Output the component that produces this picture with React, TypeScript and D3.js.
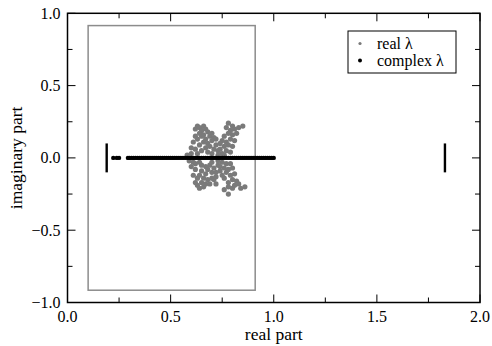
import { useEffect, useRef } from "react";
import * as d3 from "d3";

const W = 492, H = 346;
const FONT = "'Liberation Serif', 'Times New Roman', serif";

// x ticks / y ticks
const X_MAJOR = [0, 0.5, 1.0, 1.5, 2.0];
const X_MINOR = [0.25, 0.75, 1.25, 1.75];
const Y_MAJOR = [-1.0, -0.5, 0, 0.5, 1.0];
const Y_MINOR = [-0.75, -0.25, 0.25, 0.75];

// grey bounding box (real / imag extents)
const BOX_X = [0.1, 0.91];
const BOX_Y = [-0.915, 0.915];

// isolated eigenvalue bars (real part, half height)
const BARS = [0.19, 1.83];
const BAR_HALF = 0.1;

// real λ cloud, upper half
const REAL_UP: [number, number][] = [
  [0.62, 0.20], [0.63, 0.22], [0.64, 0.21], [0.65, 0.19], [0.66, 0.22], [0.67, 0.20],
  [0.64, 0.17], [0.62, 0.15], [0.63, 0.13], [0.65, 0.15], [0.66, 0.16], [0.68, 0.18],
  [0.69, 0.15], [0.67, 0.13], [0.70, 0.12], [0.68, 0.10], [0.66, 0.11], [0.64, 0.09],
  [0.61, 0.11], [0.60, 0.07], [0.62, 0.06], [0.65, 0.05], [0.67, 0.07], [0.69, 0.08],
  [0.71, 0.06], [0.70, 0.03], [0.68, 0.04], [0.72, 0.09], [0.73, 0.05], [0.71, 0.14],
  [0.70, 0.17], [0.58, 0.02], [0.60, 0.03], [0.63, 0.03],
  [0.78, 0.24], [0.77, 0.21], [0.79, 0.19], [0.80, 0.22], [0.81, 0.20], [0.83, 0.21],
  [0.85, 0.22], [0.82, 0.17], [0.80, 0.16], [0.78, 0.17], [0.76, 0.15], [0.79, 0.13],
  [0.81, 0.12], [0.77, 0.11], [0.75, 0.12], [0.76, 0.08], [0.78, 0.09], [0.80, 0.08],
  [0.74, 0.06], [0.77, 0.05], [0.75, 0.03], [0.79, 0.04], [0.73, 0.02], [0.76, 0.02],
  [0.74, 0.10], [0.72, 0.13],
];

// real λ cloud, lower half
const REAL_DOWN: [number, number][] = [
  [0.63, -0.19], [0.62, -0.17], [0.64, -0.21], [0.66, -0.20], [0.65, -0.17], [0.67, -0.18],
  [0.63, -0.14], [0.61, -0.12], [0.64, -0.12], [0.66, -0.14], [0.68, -0.15], [0.69, -0.18],
  [0.70, -0.14], [0.67, -0.11], [0.70, -0.10], [0.68, -0.08], [0.65, -0.09], [0.62, -0.08],
  [0.60, -0.06], [0.62, -0.04], [0.65, -0.05], [0.67, -0.06], [0.69, -0.05], [0.71, -0.07],
  [0.70, -0.03], [0.72, -0.10], [0.73, -0.05], [0.71, -0.15], [0.72, -0.13], [0.59, -0.02],
  [0.61, -0.03], [0.64, -0.03],
  [0.78, -0.25], [0.76, -0.22], [0.78, -0.20], [0.80, -0.21], [0.81, -0.19], [0.84, -0.21],
  [0.86, -0.20], [0.82, -0.16], [0.80, -0.15], [0.78, -0.17], [0.76, -0.14], [0.79, -0.12],
  [0.81, -0.11], [0.77, -0.10], [0.75, -0.12], [0.76, -0.07], [0.78, -0.08], [0.80, -0.07],
  [0.74, -0.06], [0.77, -0.04], [0.75, -0.03], [0.79, -0.04], [0.73, -0.02], [0.74, -0.09],
  [0.83, -0.18], [0.72, -0.18],
];

// complex λ along the real axis (real parts)
const COMPLEX_X = [
  0.222, 0.239, 0.25,
  0.293, 0.30, 0.31, 0.32, 0.33, 0.34, 0.35, 0.36, 0.37, 0.38, 0.39, 0.40,
  0.41, 0.42, 0.43, 0.44, 0.45, 0.46, 0.47, 0.48, 0.49, 0.50,
  0.51, 0.52, 0.53, 0.54, 0.55, 0.56, 0.57, 0.58, 0.59, 0.60,
  0.61, 0.62, 0.63, 0.64, 0.65, 0.66, 0.67, 0.68, 0.69, 0.70,
  0.71, 0.72, 0.73, 0.74, 0.75, 0.76, 0.77, 0.78, 0.79, 0.80,
  0.81, 0.82, 0.83, 0.84, 0.85, 0.86, 0.87, 0.88, 0.89, 0.90,
  0.91, 0.92, 0.93, 0.94, 0.95, 0.96, 0.97, 0.98, 0.99, 1.0,
];

const GREY = "#7a7a7a";

export default function App() {
  const svgRef = useRef<SVGSVGElement>(null);

  useEffect(() => {
    if (!svgRef.current) return;
    const svg = d3.select(svgRef.current);
    svg.selectAll("*").remove();

    const ML = 67.5, MR = 12, MT = 13.3, MB = 43.5;
    const iW = W - ML - MR, iH = H - MT - MB;
    const x = d3.scaleLinear().domain([0, 2]).range([0, iW]);
    const y = d3.scaleLinear().domain([-1, 1]).range([iH, 0]);

    const g = svg.append("g").attr("transform", `translate(${ML},${MT})`);

    // grey box
    g.append("rect")
      .attr("x", x(BOX_X[0])).attr("y", y(BOX_Y[1]))
      .attr("width", x(BOX_X[1]) - x(BOX_X[0]))
      .attr("height", y(BOX_Y[0]) - y(BOX_Y[1]))
      .attr("fill", "none").attr("stroke", "#8c8c8c").attr("stroke-width", 1.5);

    // real λ
    g.append("g").selectAll("circle")
      .data([...REAL_UP, ...REAL_DOWN])
      .join("circle")
      .attr("cx", d => x(d[0])).attr("cy", d => y(d[1])).attr("r", 2.6)
      .attr("fill", GREY);

    // complex λ
    g.append("g").selectAll("circle")
      .data(COMPLEX_X)
      .join("circle")
      .attr("cx", d => x(d)).attr("cy", y(0)).attr("r", 2.2)
      .attr("fill", "#000");

    // bars
    for (const b of BARS) {
      g.append("line")
        .attr("x1", x(b)).attr("x2", x(b))
        .attr("y1", y(BAR_HALF)).attr("y2", y(-BAR_HALF))
        .attr("stroke", "#000").attr("stroke-width", 2.4);
    }

    // frame
    g.append("rect").attr("width", iW).attr("height", iH)
      .attr("fill", "none").attr("stroke", "#000").attr("stroke-width", 1.5);

    // inward ticks on all four sides
    const tk = g.append("g").attr("stroke", "#000").attr("stroke-width", 1);
    const xt = [...X_MAJOR.map(v => [v, 8]), ...X_MINOR.map(v => [v, 5])];
    const yt = [...Y_MAJOR.map(v => [v, 8]), ...Y_MINOR.map(v => [v, 5])];
    for (const [v, l] of xt) {
      tk.append("line").attr("x1", x(v)).attr("x2", x(v)).attr("y1", iH).attr("y2", iH - l);
      tk.append("line").attr("x1", x(v)).attr("x2", x(v)).attr("y1", 0).attr("y2", l);
    }
    for (const [v, l] of yt) {
      tk.append("line").attr("y1", y(v)).attr("y2", y(v)).attr("x1", 0).attr("x2", l);
      tk.append("line").attr("y1", y(v)).attr("y2", y(v)).attr("x1", iW).attr("x2", iW - l);
    }

    // tick labels
    const fmt = d3.format(".1f");
    g.append("g").selectAll("text").data(X_MAJOR).join("text")
      .attr("x", d => x(d)).attr("y", iH + 20)
      .attr("text-anchor", "middle").attr("font-family", FONT).attr("font-size", 16)
      .text(d => fmt(d));
    g.append("g").selectAll("text").data(Y_MAJOR).join("text")
      .attr("x", -7).attr("y", d => y(d) + 5.5)
      .attr("text-anchor", "end").attr("font-family", FONT).attr("font-size", 16)
      .text(d => fmt(d));

    // axis titles
    svg.append("text")
      .attr("x", ML + iW / 2).attr("y", 340)
      .attr("text-anchor", "middle").attr("font-family", FONT).attr("font-size", 17.5)
      .text("real part");
    svg.append("text")
      .attr("transform", `translate(22,${MT + iH / 2}) rotate(-90)`)
      .attr("text-anchor", "middle").attr("font-family", FONT).attr("font-size", 17.5)
      .text("imaginary part");

    // legend
    const lg = svg.append("g").attr("transform", "translate(348,31)");
    lg.append("rect").attr("width", 108).attr("height", 42)
      .attr("fill", "#fff").attr("stroke", "#000").attr("stroke-width", 1);
    const items: [string, string, number][] = [["real λ", GREY, 1.6], ["complex λ", "#000", 2]];
    items.forEach(([label, color, r], i) => {
      lg.append("circle").attr("cx", 12).attr("cy", 12.5 + i * 17).attr("r", r).attr("fill", color);
      lg.append("text").attr("x", 29).attr("y", 18 + i * 17)
        .attr("font-family", FONT).attr("font-size", 16).text(label);
    });
  }, []);

  return (
    <div style={{ position: "absolute", left: 0, top: 0 }}>
      <svg ref={svgRef} width={W} height={H} style={{ display: "block", background: "#fff" }} />
    </div>
  );
}
